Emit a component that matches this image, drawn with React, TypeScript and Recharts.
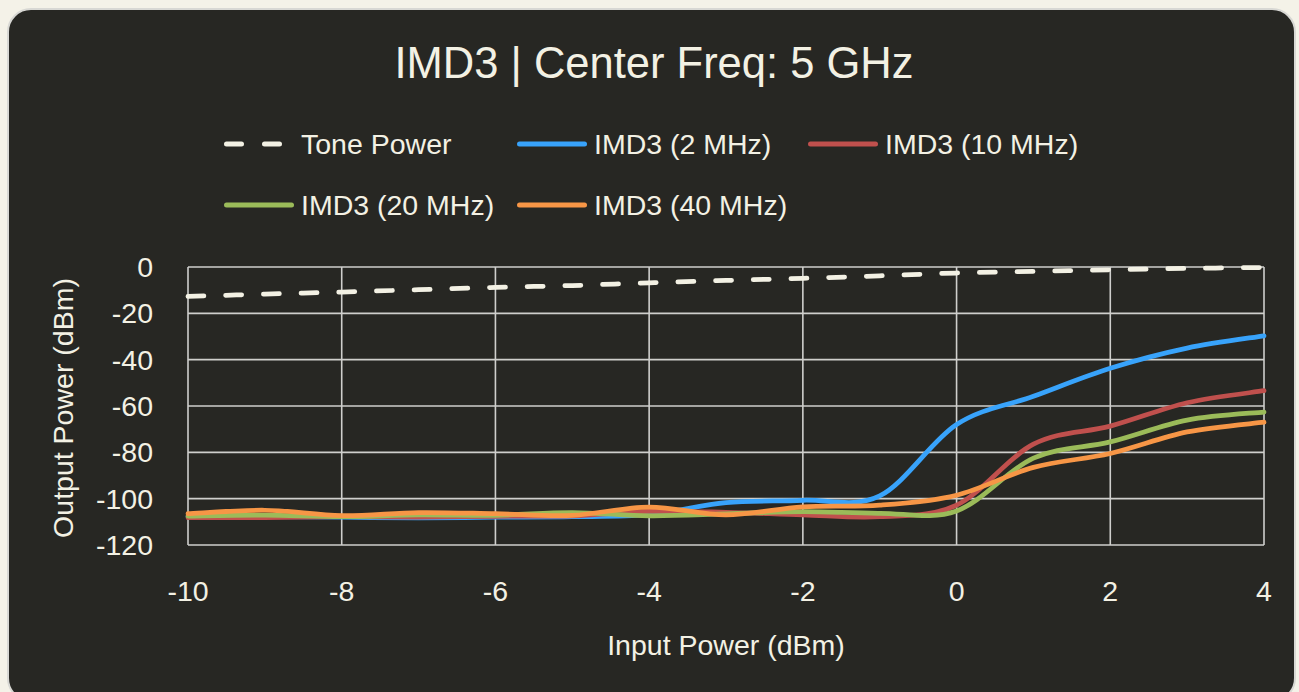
import React from 'react';
import { LineChart, Line, XAxis, YAxis, CartesianGrid } from 'recharts';

const inputPower = [-10, -9, -8, -7, -6, -5, -4, -3, -2, -1, 0, 1, 2, 3, 4];
const tonePower = [-12.7, -11.7, -10.8, -9.8, -8.8, -8.0, -6.8, -5.8, -4.9, -3.8, -2.6, -1.9, -1.2, -0.6, -0.2];
const imd3_2MHz = [-107.8, -107.8, -108.0, -108.3, -108.0, -107.8, -106.8, -101.7, -100.7, -98.8, -68.0, -55.8, -43.7, -35.0, -29.7];
const imd3_10MHz = [-108.2, -108.2, -107.8, -108.0, -107.6, -107.4, -105.5, -105.9, -107.0, -107.8, -102.8, -76.5, -68.7, -58.6, -53.4];
const imd3_20MHz = [-107.5, -107.1, -107.8, -107.0, -107.2, -106.0, -107.4, -106.6, -105.6, -106.3, -105.3, -82.5, -75.5, -66.1, -62.6];
const imd3_40MHz = [-106.5, -105.0, -107.3, -106.0, -106.5, -107.2, -103.6, -107.0, -103.5, -102.8, -98.5, -86.5, -80.5, -71.2, -67.0];

const xTicks = [-10, -8, -6, -4, -2, 0, 2, 4];
const yTicks = [-120, -100, -80, -60, -40, -20, 0];

const seriesNames = ['Tone Power', 'IMD3 (2 MHz)', 'IMD3 (10 MHz)', 'IMD3 (20 MHz)', 'IMD3 (40 MHz)'];
const seriesKeys = ['tone', 'imd2', 'imd10', 'imd20', 'imd40'];
const seriesColors = ['#f3f1e4', '#38a3fb', '#c0504d', '#9bbb59', '#f79646'];

const data = inputPower.map((x, i) => ({
  x,
  tone: tonePower[i],
  imd2: imd3_2MHz[i],
  imd10: imd3_10MHz[i],
  imd20: imd3_20MHz[i],
  imd40: imd3_40MHz[i],
}));

const PAGE = '#f4f2e8';
const CARD = '#272723';
const TEXT = '#f3f1e4';
const GRID = '#cfcfcc';
const FONT = "'Liberation Sans', Arial, sans-serif";
const FS = 28.5;

// Smooth (Catmull-Rom style) curve, like a spreadsheet "smoothed line"
const smoothCurve: any = (context: any) => {
  let pts: number[][] = [];
  return {
    areaStart() {},
    areaEnd() {},
    lineStart() {
      pts = [];
    },
    point(x: number, y: number) {
      pts.push([+x, +y]);
    },
    lineEnd() {
      const n = pts.length;
      if (!n) return;
      context.moveTo(pts[0][0], pts[0][1]);
      for (let i = 0; i < n - 1; i++) {
        const p0 = pts[i - 1] || pts[i];
        const p1 = pts[i];
        const p2 = pts[i + 1];
        const p3 = pts[i + 2] || p2;
        context.bezierCurveTo(
          p1[0] + (p2[0] - p0[0]) / 6,
          p1[1] + (p2[1] - p0[1]) / 6,
          p2[0] - (p3[0] - p1[0]) / 6,
          p2[1] - (p3[1] - p1[1]) / 6,
          p2[0],
          p2[1],
        );
      }
    },
  };
};

const XTitle = (props: any) => {
  const vb = props.viewBox || { x: 0, y: 0, width: 0, height: 0 };
  return (
    <text x={vb.x + vb.width / 2} y={vb.y + 110} textAnchor="middle" fill={TEXT} fontSize={FS} fontFamily={FONT}>
      Input Power (dBm)
    </text>
  );
};

const YTitle = (props: any) => {
  const vb = props.viewBox || { x: 0, y: 0, width: 0, height: 0 };
  const cx = vb.x - 15;
  const cy = vb.y + vb.height / 2 + 2;
  return (
    <text x={cx} y={cy} transform={`rotate(-90 ${cx} ${cy})`} textAnchor="middle" fill={TEXT} fontSize={FS} fontFamily={FONT}>
      Output Power (dBm)
    </text>
  );
};

const LegendIcon = ({ idx }: { idx: number }) => (
  <svg width={70} height={10} style={{ display: 'block', flex: '0 0 auto', marginRight: 7 }}>
    {idx === 0 ? (
      <line x1={2.5} x2={56} y1={5} y2={5} stroke={seriesColors[0]} strokeWidth={5} strokeDasharray="15 23" strokeLinecap="round" />
    ) : (
      <line x1={2.5} x2={67.5} y1={5} y2={5} stroke={seriesColors[idx]} strokeWidth={5} strokeLinecap="round" />
    )}
  </svg>
);

export default function App() {
  return (
    <div style={{ position: 'relative', width: 1299, height: 692, overflow: 'hidden', background: PAGE, fontFamily: FONT }}>
      <style>{`body{margin:0;background:${PAGE};}`}</style>
      <div
        style={{
          position: 'absolute',
          left: 7,
          top: 8,
          width: 1289,
          height: 694,
          borderRadius: 24,
          background: CARD,
          border: '2px solid #d8d8d4',
          boxSizing: 'border-box',
        }}
      />
      <div
        style={{
          position: 'absolute',
          left: 354,
          top: 41.5,
          width: 600,
          textAlign: 'center',
          color: TEXT,
          fontSize: 43.5,
          lineHeight: 1,
          whiteSpace: 'nowrap',
        }}
      >
        IMD3 | Center Freq: 5 GHz
      </div>
      <div
        style={{
          position: 'absolute',
          left: 224,
          top: 130,
          display: 'grid',
          gridTemplateColumns: '293px 291px auto',
          rowGap: 32,
          color: TEXT,
          fontSize: FS,
          lineHeight: 1,
        }}
      >
        {seriesNames.map((name, i) => (
          <div key={name} style={{ display: 'flex', alignItems: 'center', whiteSpace: 'nowrap', height: FS }}>
            <LegendIcon idx={i} />
            <span>{name}</span>
          </div>
        ))}
      </div>
      <div style={{ position: 'absolute', left: 0, top: 0 }}>
        <LineChart width={1299} height={692} data={data} margin={{ top: 267, right: 35, bottom: 47, left: 88 }}>
          <CartesianGrid stroke={GRID} strokeWidth={1.6} />
          <XAxis
            dataKey="x"
            type="number"
            domain={[-10, 4]}
            ticks={xTicks}
            axisLine={false}
            tickLine={false}
            tickSize={0}
            tickMargin={36}
            height={100}
            tick={{ fill: TEXT, fontSize: FS, fontFamily: FONT }}
            label={<XTitle />}
          />
          <YAxis
            type="number"
            domain={[-120, 0]}
            ticks={yTicks}
            axisLine={false}
            tickLine={false}
            tickSize={0}
            tickMargin={35}
            width={100}
            tick={{ fill: TEXT, fontSize: FS, fontFamily: FONT }}
            label={<YTitle />}
          />
          {seriesKeys.map((k, i) => (
            <Line
              key={k}
              dataKey={k}
              name={seriesNames[i]}
              type={smoothCurve}
              stroke={seriesColors[i]}
              strokeWidth={4.75}
              strokeDasharray={i === 0 ? '16 21.7' : undefined}
              strokeLinecap="round"
              dot={false}
              activeDot={false}
              isAnimationActive={false}
            />
          ))}
        </LineChart>
      </div>
    </div>
  );
}
